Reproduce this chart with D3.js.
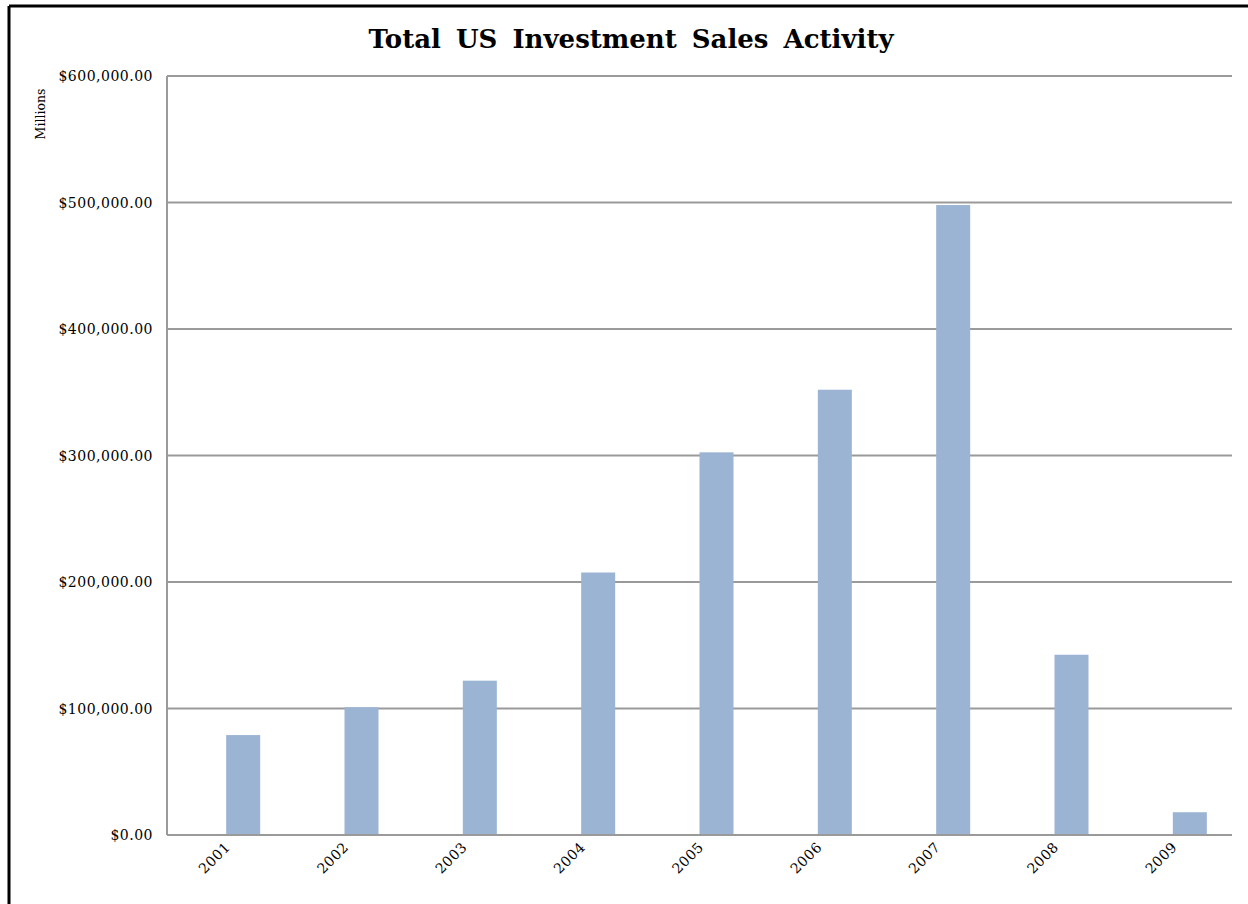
<!DOCTYPE html>
<meta charset="utf-8">
<style>
    body {
        margin: 0;
        overflow: hidden;
        background: #fff;
    }
    text {
        font-family: "DejaVu Serif", serif;
    }
</style>
<svg id="canvas" width="1248" height="904"></svg>
<script src="https://d3js.org/d3.v7.min.js"></script>
<script>

    var years = ["2001", "2002", "2003", "2004", "2005", "2006", "2007", "2008", "2009"];
    var sales = [79000, 101000, 122000, 207500, 302500, 352000, 498000, 142500, 18000];
    var yTicks = [0, 100000, 200000, 300000, 400000, 500000, 600000];

    var svg = d3.select("svg"),
        margin = {left: 167, top: 76, right: 1232, bottom: 835};

    // outer frame (only top and left edges show in the picture)
    svg.append("line").attr("x1", 9).attr("x2", 1248).attr("y1", 6).attr("y2", 6)
       .attr("stroke", "#000").attr("stroke-width", 3);
    svg.append("line").attr("x1", 9).attr("x2", 9).attr("y1", 6).attr("y2", 904)
       .attr("stroke", "#000").attr("stroke-width", 3);

    var x = d3.scaleBand().domain(years).range([margin.left, margin.right]).padding(0);
    var y = d3.scaleLinear().domain([0, 600000]).range([margin.bottom, margin.top]);

    var money = function(v) { return "$" + d3.format(",.2f")(v); };

    // gridlines
    svg.append("g")
       .selectAll("line")
       .data(yTicks)
       .enter().append("line")
       .attr("x1", margin.left).attr("x2", margin.right)
       .attr("y1", function(d) { return y(d); })
       .attr("y2", function(d) { return y(d); })
       .attr("stroke", "#9a9a9a")
       .attr("stroke-width", 2);

    // left axis line
    svg.append("line")
       .attr("x1", margin.left).attr("x2", margin.left)
       .attr("y1", margin.top).attr("y2", margin.bottom)
       .attr("stroke", "#9a9a9a").attr("stroke-width", 2);

    // y tick labels
    svg.append("g")
       .selectAll("text")
       .data(yTicks)
       .enter().append("text")
       .attr("x", 153)
       .attr("y", function(d) { return y(d) + 5; })
       .attr("text-anchor", "end")
       .attr("font-size", 14)
       .attr("letter-spacing", 0.5)
       .attr("fill", "#000")
       .text(money);

    // bars: Excel-style, sitting in the right half of each category
    var barW = 34;
    svg.append("g")
       .selectAll("rect")
       .data(sales)
       .enter().append("rect")
       .attr("x", function(d, i) { return x(years[i]) + x.bandwidth() / 2; })
       .attr("width", barW)
       .attr("y", function(d) { return y(d); })
       .attr("height", function(d) { return y(0) - y(d); })
       .attr("fill", "#9bb4d4");

    // redraw baseline on top of bars
    svg.append("line")
       .attr("x1", margin.left).attr("x2", margin.right)
       .attr("y1", y(0)).attr("y2", y(0))
       .attr("stroke", "#9a9a9a").attr("stroke-width", 2);

    // x labels, rotated
    svg.append("g")
       .selectAll("text")
       .data(years)
       .enter().append("text")
       .attr("transform", function(d) {
           return "translate(" + (x(d) + x.bandwidth() / 2 + 5) + "," + 848 + ") rotate(-45)";
       })
       .attr("text-anchor", "end")
       .attr("font-size", 14)
       .attr("letter-spacing", 0.5)
       .attr("fill", "#000")
       .text(function(d) { return d; });

    // axis title
    svg.append("text")
       .attr("transform", "translate(45,114) rotate(-90)")
       .attr("text-anchor", "middle")
       .attr("font-size", 12.5)
       .text("Millions");

    // chart title
    svg.append("text")
       .attr("x", 631)
       .attr("y", 48)
       .attr("text-anchor", "middle")
       .attr("font-size", 26)
       .attr("font-weight", "bold")
       .attr("word-spacing", 6)
       .text("Total US Investment Sales Activity");

</script>
